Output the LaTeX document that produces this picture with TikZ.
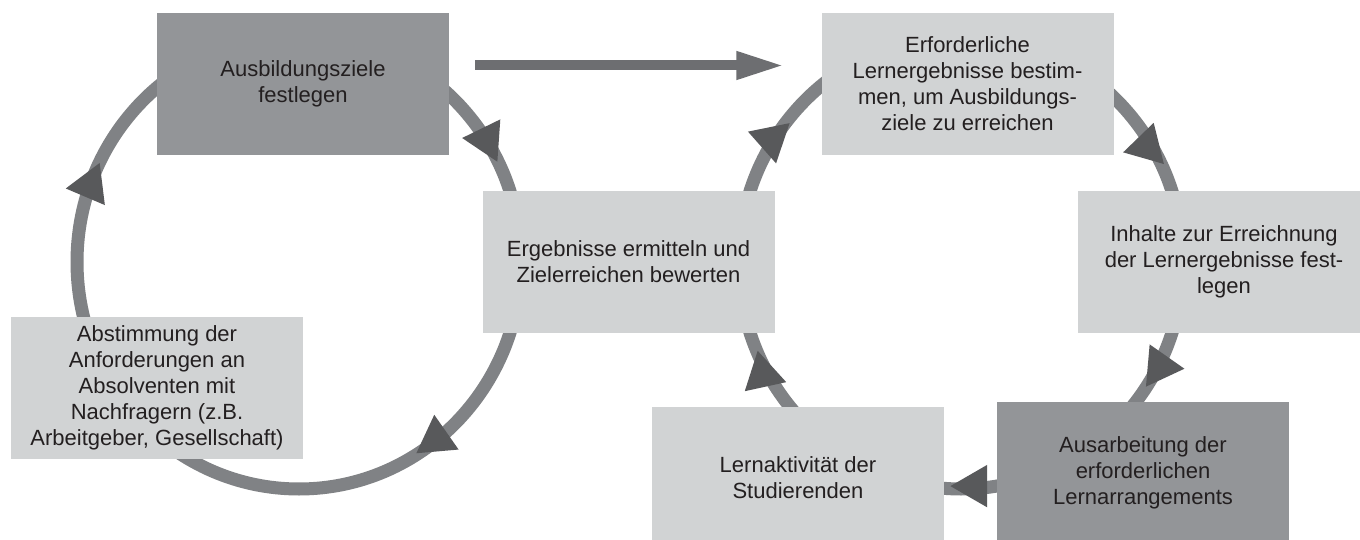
\documentclass[tikz,border=0pt]{standalone}
\usepackage{fontspec}
\setmainfont{Liberation Sans}
\usetikzlibrary{arrows.meta,calc}
\definecolor{cDark}{RGB}{147,149,152}
\definecolor{cLight}{RGB}{209,211,212}
\definecolor{cRing}{RGB}{128,130,133}
\definecolor{cTri}{RGB}{88,89,91}
\definecolor{cBig}{RGB}{109,110,113}
\definecolor{cTxt}{RGB}{35,31,32}
\begin{document}
\begin{tikzpicture}[x=1pt,y=-1pt,
  box/.style={minimum width=292pt, minimum height=142pt, inner sep=0pt,
    align=center, text=cTxt, font=\fontsize{22}{26}\selectfont},
  darkbx/.style={box, fill=cDark},
  lightbx/.style={box, fill=cLight},
  ringline/.style={draw=cRing, line width=13pt},
  tri/.style={fill=cTri},
  bigarrow/.style={draw=cBig, line width=10pt,
    -{Triangle[width=26pt,length=48pt]}, shorten >=37pt}
]
\useasboundingbox (0,0) rectangle (1360,540);
\clip (0,0) rectangle (1360,540);
\fill[white] (0,0) rectangle (1360,540);

% the two cycles
\coordinate (lc) at (299,262);
\coordinate (rc) at (961,262);
\draw[ringline] (lc) ellipse [x radius=222pt, y radius=227pt];
\draw[ringline] (rc) ellipse [x radius=222pt, y radius=227pt];

% boxes
\node[darkbx]  (az)   at (303,84)    {Ausbildungsziele\\festlegen};
\node[lightbx] (erf)  at (967.5,84)  {Erforderliche\\Lernergebnisse bestim-\\men, um Ausbildungs-\\ziele zu erreichen};
\node[lightbx] (inh)  at (1224,262)  {Inhalte zur Erreichnung\\der Lernergebnisse fest-\\legen};
\node[lightbx] (erg)  at (628.5,262) {Ergebnisse ermitteln und\\Zielerreichen bewerten};
\node[lightbx] (abs)  at (157,388)   {Abstimmung der\\Anforderungen an\\Absolventen mit\\Nachfragern (z.B.\\Arbeitgeber, Gesellschaft)};
\node[lightbx] (lern) at (798,478)   {Lernaktivität der\\Studierenden};
\node[darkbx]  (ausa) at (1143,473)  {Ausarbeitung der\\erforderlichen\\Lernarrangements};

% arrowheads on the cycles
\foreach \cx/\cy/\a in {486.6/139.7/64, 90.1/185.5/53, 436.4/439.2/25,
  771.2/139.4/78.5, 1146.9/146.4/46, 1160/366.6/5, 974.9/486.1/60, 762.9/374.7/17.7}
  \fill[tri] ($(\cx,\cy)+(\a:24.5)$) -- ($(\cx,\cy)+(\a+120:24.5)$)
     -- ($(\cx,\cy)+(\a+240:24.5)$) -- cycle;

% big arrow between the cycles
\path (az.east) ++(26,-18.5) coordinate (a0);
\draw[bigarrow] (a0) -- (a0 -| erf.west);
\end{tikzpicture}
\end{document}
